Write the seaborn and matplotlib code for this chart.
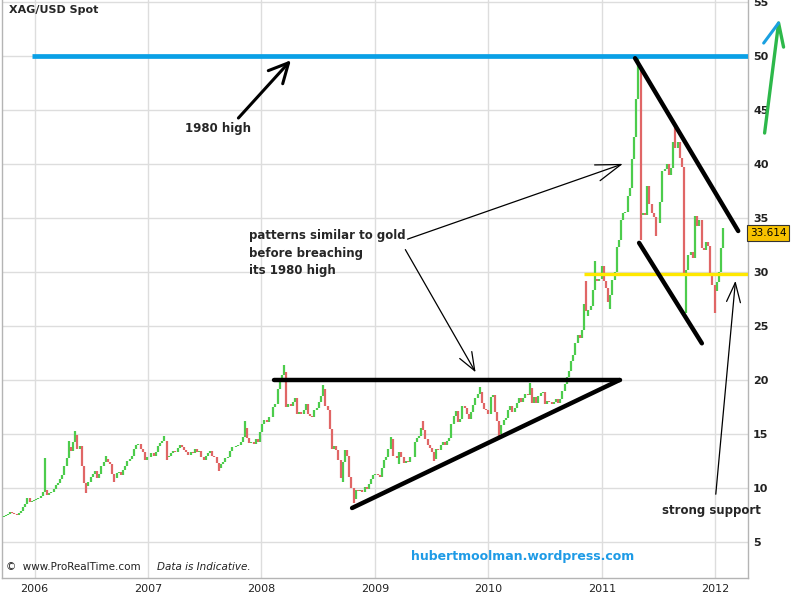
"""
XAG/USD weekly bars with hand-drawn style trendlines
"""

import numpy as np
import matplotlib.pyplot as plt
import matplotlib.dates as mdates
import pandas as pd
import seaborn as sns

sns.set_style("white")
plt.rcParams["font.family"] = ["DejaVu Sans"]

# weekly closes, one list per year
c2005 = [7.4, 7.5, 7.6, 7.8, 7.7, 7.6, 7.5, 7.7, 7.9, 8.2, 8.5, 9.1, 8.7, 8.8, 8.9]
c2006 = [9.0, 9.1, 9.3, 9.6,
         9.8, 9.4, 9.5, 9.6,
         9.9, 10.3, 10.5, 10.8, 11.2,
         12.0, 12.8, 13.8, 13.4,
         14.3, 14.9, 13.6, 13.9,
         12.0, 10.5, 10.2, 10.6, 11.0,
         11.3, 11.6, 10.9, 11.3,
         12.0, 12.4, 12.7, 12.4,
         12.2, 11.3, 10.9, 11.4, 11.5,
         11.2, 11.7, 12.0, 12.5,
         12.7, 13.0, 13.6, 14.0,
         14.1, 13.6, 13.3, 12.6, 12.9]
c2007 = [12.9, 13.2, 13.0, 13.3,
         13.9, 14.2, 14.4, 14.4,
         12.9, 13.0, 13.2, 13.4, 13.3,
         13.7, 14.0, 13.8, 13.5,
         13.3, 13.1, 13.3, 13.2,
         13.6, 13.3, 13.4, 12.9, 12.6,
         13.0, 13.2, 13.4, 13.0,
         12.9, 12.3, 11.9, 12.2, 12.4,
         12.8, 12.9, 13.4, 13.8,
         13.8, 13.9, 14.0, 14.3,
         14.7, 15.6, 14.6, 14.2, 14.3,
         14.1, 14.5, 14.3, 15.2]
c2008 = [15.9, 16.3, 16.1, 16.6,
         16.6, 17.5, 17.8, 19.2, 19.8,
         20.5, 20.7, 17.5, 17.8,
         17.6, 18.0, 18.3, 16.9,
         17.0, 16.9, 17.2, 17.8, 16.9,
         16.7, 16.6, 17.2, 17.4,
         18.0, 18.5, 19.2, 17.6,
         17.2, 15.5, 13.6, 13.9, 13.5,
         12.6, 10.9, 12.4, 13.5,
         13.0, 11.0, 10.0, 9.0, 9.8,
         9.7, 9.8, 9.6, 10.1,
         9.9, 10.4, 10.8, 11.2]
c2009 = [11.3, 11.2, 11.0, 11.9, 12.6,
         12.9, 13.6, 14.5, 13.0,
         13.0, 12.8, 13.3, 12.9,
         12.3, 12.5, 12.4, 12.9,
         12.9, 14.3, 14.6, 14.8, 15.6,
         15.4, 14.5, 14.0, 13.7,
         13.3, 12.7, 13.6, 13.5, 14.0,
         14.3, 14.0, 14.4, 14.6,
         15.9, 16.7, 17.1, 16.1,
         16.4, 17.6, 17.4, 16.9, 16.4,
         17.0, 17.7, 18.3, 18.7,
         18.9, 17.9, 17.3, 17.2]
c2010 = [16.9, 18.4, 18.6, 17.0, 16.2,
         15.0, 15.8, 16.3, 16.5,
         17.2, 17.6, 17.0, 17.4,
         17.9, 18.3, 18.0, 18.3, 18.7,
         18.6, 19.3, 17.9, 18.4,
         17.9, 18.5, 18.8, 18.9,
         17.8, 18.1, 18.0, 17.8, 18.0,
         18.2, 17.9, 18.2, 19.0,
         19.6, 20.3, 20.8, 21.8,
         22.3, 23.4, 24.2, 23.9, 24.6,
         27.0, 26.4, 26.5, 26.9,
         28.3, 29.4, 29.2, 29.4, 30.6]
c2011 = [29.2, 28.5, 27.2, 27.9,
         29.3, 30.0, 32.3, 33.0,
         34.8, 35.5, 35.6, 37.0,
         37.8, 40.5, 42.5, 46.0, 48.6,
         35.3, 35.5, 35.3, 38.0,
         36.3, 35.5, 35.1, 34.5,
         34.5, 36.5, 39.4, 39.5, 40.0,
         39.0, 39.6, 42.0, 41.5,
         42.0, 40.6, 39.7, 29.9, 30.2,
         31.6, 31.9, 31.3, 35.2,
         34.3, 34.8, 32.2, 32.0,
         32.8, 32.4, 29.6, 28.8, 28.2]
c2012 = [29.1, 30.0, 32.2, 33.614]
year_starts = ["2005-09-23", "2006-01-06", "2007-01-05", "2008-01-04",
               "2009-01-02", "2010-01-01", "2011-01-07", "2012-01-06"]

# intra-week extremes that stick out
high_dates = ["2006-02-03", "2006-04-21", "2006-05-12", "2006-08-18", "2007-02-23",
              "2007-11-09", "2008-03-14", "2008-07-18", "2009-02-20", "2009-06-05",
              "2009-12-04", "2010-05-14", "2010-11-12", "2010-12-10", "2011-04-29",
              "2011-08-26", "2012-01-27"]
high_vals = [12.8, 14.4, 15.3, 13.0, 14.8,
             16.2, 21.4, 19.5, 14.7, 16.2,
             19.4, 19.7, 29.2, 31.0, 49.8,
             43.6, 34.1]
low_dates = ["2006-06-16", "2006-09-15", "2007-03-02", "2007-08-17", "2008-09-19",
             "2008-10-24", "2009-03-20", "2009-07-10", "2010-02-05", "2010-11-19",
             "2011-01-28", "2011-05-06", "2011-06-24", "2011-09-30", "2011-12-30"]
low_vals = [9.5, 10.6, 12.6, 11.6, 10.6,
            8.6, 12.2, 12.5, 14.8, 25.9,
            26.6, 33.0, 33.3, 26.2, 26.2]

# drawn lines
lines = pd.DataFrame({
    "line": ["top", "top", "base", "base", "chan_hi", "chan_hi", "chan_lo", "chan_lo"],
    "date": pd.to_datetime(["2008-02-10", "2011-02-27", "2008-10-19", "2011-02-27",
                            "2011-04-18", "2012-03-15", "2011-05-01", "2011-11-19"]),
    "value": [20.0, 20.0, 8.15, 20.0, 49.8, 33.8, 32.7, 23.4],
})
blue_start, high_1980 = "2005-12-23", 50
yellow_start, support = "2010-11-06", 29.85

green, red = "#4ccc4c", "#e06666"

# build weekly frame
parts = []
for start, vals in zip(year_starts, [c2005, c2006, c2007, c2008, c2009, c2010, c2011, c2012]):
    parts.append(pd.DataFrame({"date": pd.date_range(start, periods=len(vals), freq="W-FRI"),
                               "close": vals}))
df = pd.concat(parts, ignore_index=True)
df["open"] = df["close"].shift(1).fillna(df["close"].iloc[0] - 0.1)
df["hi"] = df[["open", "close"]].max(axis=1)
df["lo"] = df[["open", "close"]].min(axis=1)
df = df.set_index("date")
for d, v in zip(high_dates, high_vals):
    df.loc[pd.Timestamp(d), "hi"] = max(v, df.loc[pd.Timestamp(d), "hi"])
for d, v in zip(low_dates, low_vals):
    df.loc[pd.Timestamp(d), "lo"] = min(v, df.loc[pd.Timestamp(d), "lo"])
df = df.reset_index()
up = df["close"] >= df["open"]

fig = plt.figure(figsize=(8, 6), dpi=100)
ax = fig.add_axes([0.0025, 0.0367, 0.9319, 0.9633])

xmin, xmax = pd.Timestamp("2005-09-18"), pd.Timestamp("2012-04-14")

ax.vlines(df.loc[up, "date"], df.loc[up, "lo"], df.loc[up, "hi"], color=green, lw=1.6, zorder=3)
ax.vlines(df.loc[~up, "date"], df.loc[~up, "lo"], df.loc[~up, "hi"], color=red, lw=1.6, zorder=3)

# blue 1980 high and yellow support
ax.plot([pd.Timestamp(blue_start), xmax], [high_1980, high_1980], color="#0aa0e6", lw=3.4, zorder=5,
        solid_capstyle="butt")
ax.plot([pd.Timestamp(yellow_start), xmax], [support, support], color="#ffe800", lw=2.4, zorder=5,
        solid_capstyle="butt")

sns.lineplot(data=lines, x="date", y="value", units="line", estimator=None,
             color="black", lw=3.2, ax=ax, zorder=6)

# axes styling
ax.set_xlim(xmin, xmax)
ax.set_ylim(1.67, 55.19)
ax.set_yticks(range(5, 56, 5))
ax.set_xticks(pd.to_datetime([f"{y}-01-01" for y in range(2006, 2013)]))
ax.xaxis.set_major_formatter(mdates.DateFormatter("%Y"))
ax.yaxis.tick_right()
ax.tick_params(axis="y", length=0, pad=4, labelsize=8, labelcolor="#222222")
ax.tick_params(axis="x", length=0, pad=4, labelsize=8, labelcolor="#222222")
for lab in ax.get_yticklabels():
    lab.set_fontweight("bold")
ax.grid(True, color="#dddddd", lw=1)
ax.set_axisbelow(True)
for s in ["left", "bottom", "right"]:
    ax.spines[s].set_color("#b4b4b4")
    ax.spines[s].set_linewidth(1)
ax.spines["top"].set_visible(False)
ax.set_xlabel("")
ax.set_ylabel("")

# texts
ax.text(0.009, 0.983, "XAG/USD Spot", transform=ax.transAxes, fontsize=8, fontweight="bold",
        va="center", ha="left")
ax.text(0.006, 0.011, "©  www.ProRealTime.com", transform=ax.transAxes, fontsize=7.5,
        va="bottom", ha="left", color="#222222")
ax.text(0.208, 0.011, "Data is Indicative.", transform=ax.transAxes, fontsize=7.5,
        style="italic", va="bottom", ha="left", color="#222222")

ax.text(pd.Timestamp("2007-08-13"), 43.33, "1980 high", fontsize=8.5, fontweight="bold",
        ha="center", va="center", zorder=7)
ax.annotate("", xy=(pd.Timestamp("2008-04-11"), 49.8), xytext=(pd.Timestamp("2007-10-13"), 44.07),
            arrowprops=dict(arrowstyle="->,head_length=1.4,head_width=0.7", lw=2.2, color="black"),
            zorder=7)

ax.text(pd.Timestamp("2007-11-21"), 33.98, "patterns similar to gold\nbefore breaching\nits 1980 high",
        fontsize=8.5, fontweight="bold", ha="left", va="top", linespacing=1.45, zorder=7)
ax.annotate("", xy=(pd.Timestamp("2011-03-18"), 40.1), xytext=(pd.Timestamp("2009-04-07"), 32.96),
            arrowprops=dict(arrowstyle="->,head_length=1.8,head_width=0.6", lw=0.9, color="black"),
            zorder=7)
ax.annotate("", xy=(pd.Timestamp("2009-11-25"), 20.5), xytext=(pd.Timestamp("2009-04-04"), 32.3),
            arrowprops=dict(arrowstyle="->,head_length=1.3,head_width=0.5", lw=0.9, color="black"),
            zorder=7)

ax.text(pd.Timestamp("2011-12-20"), 7.96, "strong support", fontsize=8.5, fontweight="bold",
        ha="center", va="center", zorder=7, clip_on=False)
ax.annotate("", xy=(pd.Timestamp("2012-03-07"), 29.44), xytext=(pd.Timestamp("2012-01-02"), 9.17),
            arrowprops=dict(arrowstyle="->,head_length=1.4,head_width=0.5", lw=0.9, color="black"),
            zorder=7)

ax.text(pd.Timestamp("2010-04-20"), 3.7, "hubertmoolman.wordpress.com", fontsize=9,
        fontweight="bold", color="#1e9be6", ha="center", va="center")

# last price flag on the right axis
last = df["close"].iloc[-1]
ax.annotate(f"{last:.3f}", xy=(1.003, last), xycoords=("axes fraction", "data"),
            fontsize=7.5, ha="left", va="center", color="black",
            bbox=dict(boxstyle="square,pad=0.25", fc="#f7c200", ec="#333333", lw=0.8),
            annotation_clip=False)

# the up arrow in the corner
ax.plot([pd.Timestamp("2012-06-08"), pd.Timestamp("2012-07-23"), pd.Timestamp("2012-08-08")],
        [42.87, 53.06, 50.83], color="#2db84a", lw=2.4, clip_on=False, zorder=8)
ax.plot([pd.Timestamp("2012-06-05"), pd.Timestamp("2012-07-23")], [51.2, 53.06],
        color="#1aa0e0", lw=2.2, clip_on=False, zorder=8)

plt.savefig("out.png", dpi=100)
